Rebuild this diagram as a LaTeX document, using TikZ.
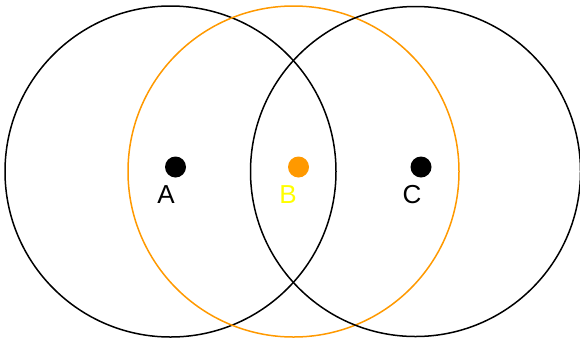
\documentclass[tikz,border=0pt]{standalone}
\usepackage{fontspec}
\setmainfont{Liberation Sans}
\definecolor{orng}{RGB}{255,153,0}
\definecolor{yel}{RGB}{255,255,0}
\begin{document}
\begin{tikzpicture}[x=1pt,y=-1pt,
  ring/.style={draw=black,line width=1.5pt},
  dot/.style={circle,fill=black,minimum size=21pt,inner sep=0pt},
  lbl/.style={font=\fontsize{26}{26}\selectfont,inner sep=0pt}]
\useasboundingbox (0,0) rectangle (580,341);
\draw[ring] (170.5,171.5) circle[radius=165.5];
\draw[ring,draw=orng] (293.5,171.5) circle[radius=165.5];
\draw[ring] (415.5,171.5) circle[radius=165];
\node[dot] (a) at (175.5,167) {};
\node[dot,fill=orng] (b) at (298.5,167) {};
\node[dot] (c) at (421,167) {};
\node[lbl,anchor=base] (la) at (166,203) {A};
\node[lbl,anchor=base,text=yel] (lb) at (288,203) {B};
\node[lbl,anchor=base] (lc) at (412,203) {C};
\end{tikzpicture}
\end{document}
